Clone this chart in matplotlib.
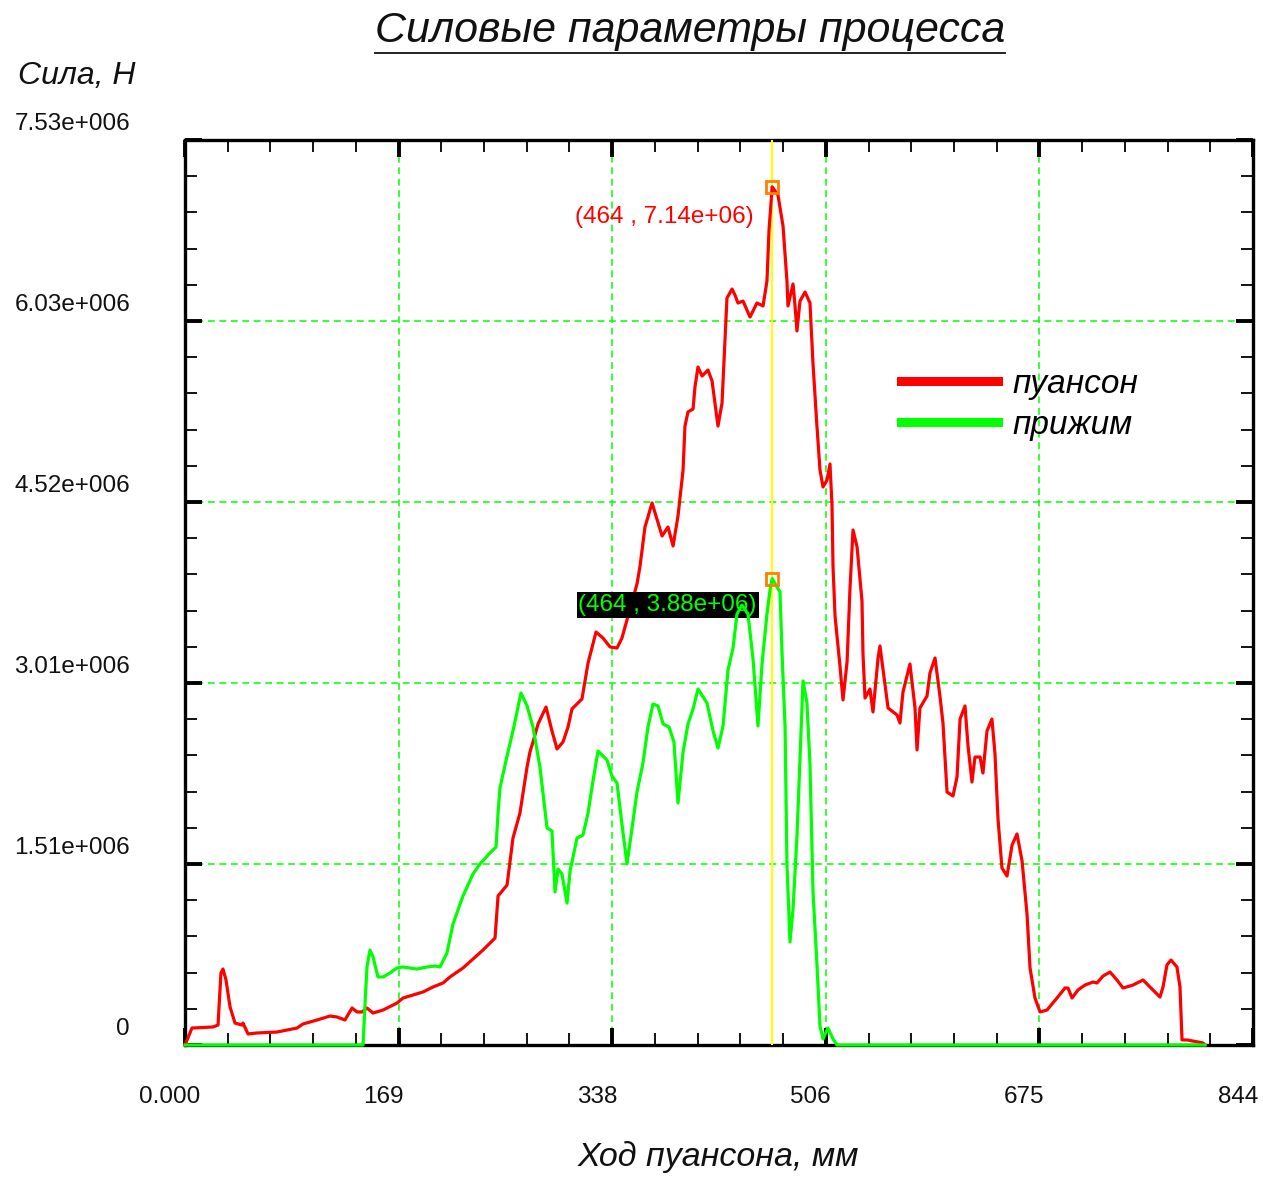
import numpy as np
import matplotlib
matplotlib.use('Agg')
import matplotlib.pyplot as plt
from matplotlib.lines import Line2D
from matplotlib.transforms import ScaledTranslation, blended_transform_factory

# ход пуансона (мм) и сила (МН) на пуансоне
punch_x = [0, 5.5, 22.1, 26.1, 28.4, 30.0, 32.4, 35.6, 39.5, 45.0, 45.8, 49.8, 56.9, 72.7, 88.5,
           93.3, 104.3, 114.6, 120.1, 126.4, 132.0, 135.9, 139.9, 143.8, 148.6, 156.5, 167.5,
           172.3, 188.1, 196.0, 203.9, 209.4, 219.7, 235.5, 245.0, 247.4, 254.5, 259.2, 264.7,
           270.3, 272.6, 275.0, 279.0, 285.3, 290.0, 294.0, 298.7, 302.7, 305.8, 313.7, 316.1,
           318.5, 324.8, 330.3, 335.9, 341.4, 345.3, 351.7, 357.2, 359.6, 363.5, 369.1, 377.0,
           381.7, 385.7, 389.6, 393.6, 395.1, 397.5, 401.5, 403.0, 405.4, 408.6, 413.3, 416.5,
           418.8, 421.2, 424.4, 425.2, 428.3, 432.3, 434.6, 437.0, 441.0, 446.5, 452.0, 456.8,
           459.9, 461.5, 464.0, 468.6, 472.6, 475.7, 476.5, 480.5, 482.1, 483.6, 486.0, 490.0,
           493.9, 496.3, 499.4, 501.8, 504.2, 507.4, 509.7, 511.3, 512.1, 513.7, 517.6, 520.0,
           523.2, 525.5, 527.9, 531.1, 535.0, 535.8, 537.4, 541.3, 543.7, 547.7, 549.2, 551.6,
           555.6, 562.7, 565.0, 567.4, 572.9, 576.9, 578.5, 580.8, 586.4, 588.7, 592.7, 596.6,
           599.0, 602.2, 606.9, 610.1, 612.5, 616.4, 618.8, 621.9, 624.3, 628.3, 630.6, 633.8,
           637.7, 640.1, 642.5, 645.6, 649.6, 653.6, 657.5, 661.5, 665.4, 667.8, 671.7, 675.7,
           681.2, 689.1, 695.4, 697.8, 701.0, 705.7, 711.2, 717.6, 720.7, 725.5, 731.0, 736.5,
           741.3, 749.2, 757.1, 762.6, 770.5, 772.9, 776.0, 779.2, 783.9, 786.3, 787.9, 791.9,
           804.5, 806.1]
punch_f = [0, 0.141, 0.150, 0.166, 0.599, 0.632, 0.541, 0.316, 0.183, 0.166, 0.183, 0.092, 0.100,
           0.108, 0.141, 0.175, 0.208, 0.241, 0.233, 0.208, 0.308, 0.275, 0.275, 0.308, 0.266,
           0.291, 0.349, 0.391, 0.441, 0.483, 0.516, 0.566, 0.641, 0.790, 0.890, 1.240, 1.331,
           1.722, 1.930, 2.313, 2.438, 2.521, 2.671, 2.812, 2.613, 2.463, 2.521, 2.646, 2.796,
           2.879, 3.029, 3.178, 3.436, 3.386, 3.312, 3.303, 3.386, 3.628, 3.836, 3.985, 4.310,
           4.510, 4.235, 4.310, 4.152, 4.401, 4.784, 5.150, 5.267, 5.292, 5.475, 5.641, 5.566,
           5.616, 5.525, 5.342, 5.150, 5.342, 5.525, 6.215, 6.290, 6.240, 6.174, 6.190, 6.057,
           6.174, 6.149, 6.357, 6.773, 7.140, 7.072, 6.814, 6.357, 6.149, 6.332, 6.149, 5.941,
           6.190, 6.265, 6.174, 5.666, 5.150, 4.784, 4.643, 4.701, 4.834, 4.493, 3.985, 3.569,
           3.153, 2.871, 3.187, 3.794, 4.285, 4.144, 3.694, 3.253, 2.887, 2.962, 2.771, 3.220,
           3.320, 3.128, 2.804, 2.746, 2.679, 2.937, 3.170, 2.804, 2.455, 2.804, 2.904, 3.095,
           3.220, 2.904, 2.679, 2.105, 2.072, 2.230, 2.712, 2.821, 2.488, 2.188, 2.396, 2.396,
           2.263, 2.613, 2.712, 2.421, 1.880, 1.473, 1.406, 1.664, 1.756, 1.531, 1.090, 0.641,
           0.391, 0.275, 0.291, 0.391, 0.474, 0.474, 0.391, 0.458, 0.499, 0.524, 0.516, 0.574,
           0.607, 0.541, 0.474, 0.499, 0.541, 0.483, 0.399, 0.483, 0.666, 0.707, 0.649, 0.483,
           0.042, 0.042, 0.017, 0]

# сила прижима (МН)
clamp_x = [0, 140.7, 142.3, 143.8, 146.2, 148.6, 152.5, 156.5, 162.0, 167.5, 172.3, 183.3, 191.2,
           197.6, 201.5, 207.0, 211.8, 219.7, 227.6, 233.1, 241.0, 245.8, 247.4, 248.9, 254.5,
           259.2, 265.5, 270.3, 275.0, 280.5, 286.1, 290.0, 292.4, 294.8, 297.9, 301.9, 304.3,
           309.8, 314.5, 318.5, 322.4, 326.4, 333.5, 337.4, 341.4, 345.3, 349.3, 353.3, 357.2,
           361.9, 365.9, 369.8, 373.8, 377.8, 382.5, 386.4, 389.6, 393.6, 397.5, 401.5, 405.4,
           412.5, 417.3, 421.2, 425.2, 429.1, 433.1, 436.2, 440.2, 444.9, 448.9, 452.8, 456.0,
           459.9, 462.5, 464.0, 470.2, 471.8, 474.2, 475.7, 478.1, 480.5, 483.6, 486.0, 488.4,
           491.5, 493.9, 496.3, 499.4, 501.8, 504.2, 508.1, 512.1, 515.3, 806.1]
clamp_f = [0, 0, 0.349, 0.649, 0.790, 0.732, 0.566, 0.566, 0.599, 0.641, 0.649, 0.632, 0.649,
           0.657, 0.649, 0.765, 1.007, 1.240, 1.423, 1.506, 1.598, 1.647, 1.930, 2.138, 2.405,
           2.613, 2.929, 2.821, 2.646, 2.313, 1.806, 1.781, 1.273, 1.464, 1.423, 1.181, 1.448,
           1.722, 1.747, 1.930, 2.197, 2.446, 2.371, 2.238, 2.180, 1.839, 1.506, 1.806, 2.105,
           2.346, 2.646, 2.837, 2.821, 2.671, 2.646, 2.521, 2.014, 2.438, 2.671, 2.796, 2.962,
           2.846, 2.613, 2.471, 2.654, 3.120, 3.303, 3.586, 3.661, 3.586, 3.212, 2.654, 3.170,
           3.586, 3.800, 3.880, 3.769, 3.262, 2.654, 1.506, 0.857, 1.132, 1.731, 2.380, 3.029,
           2.846, 2.338, 1.273, 0.674, 0.158, 0.050, 0.141, 0.050, 0, 0]

series_names = ['пуансон', 'прижим']
series_colors = ['#ff0000', '#00ff00']

x_ticks = np.linspace(0, 844, 6)
x_tick_labels = ['0.000', '169', '338', '506', '675', '844']
y_ticks = np.linspace(0, 7.53e6, 6)
y_tick_labels = ['0', '1.51e+006', '3.01e+006', '4.52e+006', '6.03e+006', '7.53e+006']

peak_x = 464
peak_punch = 7.14e6
peak_clamp = 3.88e6

cursive = ['Liberation Sans', 'DejaVu Sans']
plain = ['Liberation Sans', 'DejaVu Sans']

fig = plt.figure(figsize=(12.63, 11.79), dpi=100)
ax = fig.add_axes([185 / 1263, 1 - 1045 / 1179, 1068 / 1263, 905 / 1179])

ax.plot(punch_x, np.array(punch_f) * 1e6, color=series_colors[0], lw=2.3, zorder=3, clip_on=False)
ax.plot(clamp_x, np.array(clamp_f) * 1e6, color=series_colors[1], lw=2.3, zorder=3.1, clip_on=False)

ax.set_xlim(0, 844)
ax.set_ylim(0, 7.53e6)

# сетка и засечки
ax.set_xticks(x_ticks)
ax.set_yticks(y_ticks)
ax.set_xticks(np.linspace(0, 844, 26), minor=True)
ax.set_yticks(np.linspace(0, 7.53e6, 26), minor=True)
ax.set_xticklabels([])
ax.set_yticklabels([])
ax.tick_params(which='both', direction='in', top=True, right=True, color='black')
ax.tick_params(which='major', length=12, width=2.8)
ax.tick_params(which='minor', length=8.5, width=1.3)
ax.grid(True, which='major', color='#00ff00', lw=1.1, linestyle=(0, (4.5, 3)))
for s in ax.spines.values():
    s.set_linewidth(2.4)
    s.set_color('black')

# подписи делений смещены относительно засечек
bx = blended_transform_factory(ax.transData, ax.transAxes)
by = blended_transform_factory(ax.transAxes, ax.transData)
for v, s in zip(x_ticks, x_tick_labels):
    ax.text(v, 0, s, transform=bx + ScaledTranslation(-0.15, -0.52, fig.dpi_scale_trans),
            ha='center', va='center', fontsize=17.5, family=plain, color='#111111')
for v, s in zip(y_ticks, y_tick_labels):
    ax.text(0, v, s, transform=by + ScaledTranslation(-0.55, 0.16, fig.dpi_scale_trans),
            ha='right', va='center', fontsize=17.5, family=plain, color='#111111')

# курсор на максимуме
ax.axvline(peak_x, color='#ffff00', lw=1.5, zorder=2.9)
ax.plot([peak_x, peak_x], [peak_punch, peak_clamp], ls='none', marker='s', ms=8,
        mfc='none', mec='#ff8000', mew=2, zorder=4)
ax.annotate(f'({peak_x} , {peak_punch:.2e})', (peak_x, peak_punch), xytext=(-13, -22),
            textcoords='offset points', ha='right', va='center', fontsize=17.5,
            family=plain, color='#ff0000')
ax.annotate(f'({peak_x} , {peak_clamp:.2e})', (peak_x, peak_clamp), xytext=(-11, -19),
            textcoords='offset points', ha='right', va='center', fontsize=17.5,
            family=plain, color='#00ff00',
            bbox=dict(boxstyle='square,pad=0.08', fc='black', ec='none'))

handles = [Line2D([], [], color=c, lw=6.5) for c in series_colors]
ax.legend(handles, series_names, loc='upper left', bbox_to_anchor=(0.658, 0.762),
          frameon=False, handlelength=2.9, handletextpad=0.45, labelspacing=0.3,
          borderaxespad=0, prop=dict(family=cursive, style='italic', size=24))

fig.text(18 / 1263, 1 - 76 / 1179, 'Сила, Н', ha='left', va='center', fontsize=23,
         family=cursive, style='italic', color='#111111')
fig.text(718 / 1263, 1 - 1157 / 1179, 'Ход пуансона, мм', ha='center', va='center',
         fontsize=24.5, family=cursive, style='italic', color='#111111')
title = fig.text(690 / 1263, 1 - 31 / 1179, 'Силовые параметры процесса', ha='center',
                 va='center', fontsize=31, family=cursive, style='italic', color='#111111')

# подчёркивание заголовка
fig.canvas.draw()
bb = title.get_window_extent().transformed(fig.transFigure.inverted())
fig.add_artist(Line2D([bb.x0, bb.x1], [1 - 53 / 1179] * 2, color='#222222', lw=1.4,
                      transform=fig.transFigure))

fig.savefig('out.png', dpi=100)
